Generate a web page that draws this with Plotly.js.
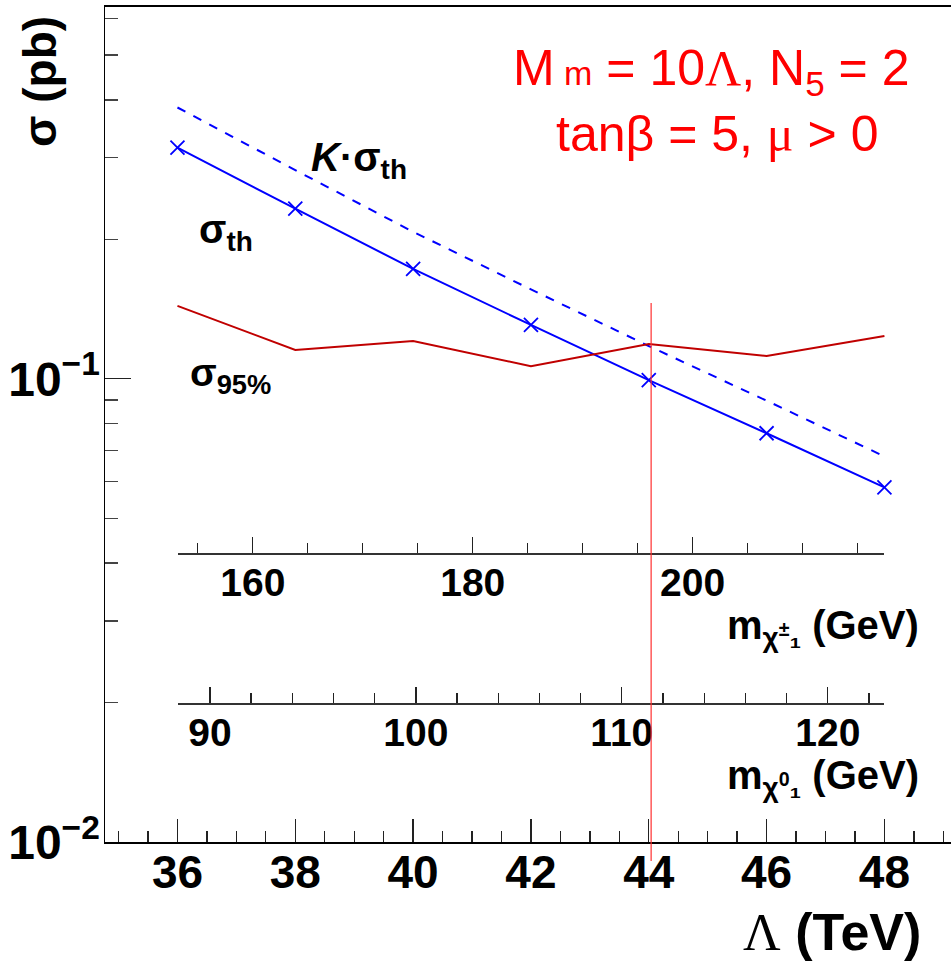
<!DOCTYPE html>
<html><head><meta charset="utf-8">
<script src="https://cdn.plot.ly/plotly-3.0.1.min.js"></script>
<style>html,body{margin:0;padding:0;background:#fff}</style>
</head><body><div id="chart" style="width:951px;height:961px"></div>
<script>
// ---- data ----
const lambdaTeV = [36, 38, 40, 42, 44, 46, 48];
const sigmaTh   = [0.3157, 0.2330, 0.1727, 0.1307, 0.0994, 0.0763, 0.0583];
const kSigmaTh  = [0.3853, 0.2822, 0.2077, 0.1560, 0.1177, 0.0897, 0.0680];
const sigma95   = [0.1437, 0.1154, 0.1207, 0.1065, 0.1189, 0.1120, 0.1237];
const exclusionLambda = 44.04;
const lambdaTicks = [36, 38, 40, 42, 44, 46, 48];
const sigmaTicks = [0.01, 0.1];
const sigmaTickText = ['10<sup>\u22122</sup>', '10<sup>\u22121</sup>'];
const sigmaMinor = [0.02,0.03,0.04,0.05,0.06,0.07,0.08,0.09,0.2,0.3,0.4,0.5,0.6];
const charginoTicks = [160, 180, 200];
const neutralinoTicks = [90, 100, 110, 120];

// ---- geometry helpers (pixel -> paper) ----
const L = 105, R = 0, T = 7, B = 119, W = 951, H = 961;
const PW = W - L - R, PH = H - T - B;
const px = v => (v - L) / PW;
const py = v => (H - B - v) / PH;

const FONT = 'Liberation Sans, Arial, Helvetica, sans-serif';
const blue = '#0000ff';

const traces = [
  {x: lambdaTeV, y: kSigmaTh, mode: 'lines', line: {color: blue, width: 2, dash: 'dash'}, hoverinfo: 'skip', showlegend: false},
  {x: lambdaTeV, y: sigmaTh, mode: 'lines+markers', line: {color: blue, width: 2},
   marker: {symbol: 'x-thin', size: 14, line: {color: blue, width: 1.8}}, showlegend: false},
  {x: lambdaTeV, y: sigma95, mode: 'lines', line: {color: '#c00000', width: 2}, showlegend: false},
  {x: charginoTicks, y: charginoTicks.map(() => null), xaxis: 'x2', yaxis: 'y', mode: 'lines', showlegend: false, hoverinfo: 'skip'},
  {x: neutralinoTicks, y: neutralinoTicks.map(() => null), xaxis: 'x3', yaxis: 'y', mode: 'lines', showlegend: false, hoverinfo: 'skip'}
];

const secAxis = (range, ticks, minorD, pos) => ({
  domain: [px(178), px(884)], anchor: 'free', position: pos, range: range,
  tickmode: 'array', tickvals: ticks, ticks: 'inside', ticklen: 16, tickwidth: 1.3, tickcolor: '#222',
  minor: {tickmode: 'linear', tick0: 0, dtick: minorD, ticks: 'inside', ticklen: 10, tickwidth: 1.3, tickcolor: '#222'},
  showline: true, linecolor: '#333', linewidth: 1.5, showgrid: false, zeroline: false,
  ticklabelstandoff: -5,
  tickfont: {family: FONT, size: 39, color: '#000', weight: 'bold'}, fixedrange: true
});

const ann = (text, x, y, size, opts) => Object.assign({
  text: text, xref: 'paper', yref: 'paper', x: px(x), y: py(y), showarrow: false,
  font: {family: FONT, size: size, color: '#000'}, xanchor: 'center', yanchor: 'middle'
}, opts || {});

const layout = {
  width: W, height: H, margin: {l: L, r: R, t: T, b: B},
  paper_bgcolor: '#fff', plot_bgcolor: 'rgba(0,0,0,0)', showlegend: false,
  xaxis: {
    range: [34.77, 49.13], tickmode: 'array', tickvals: lambdaTicks,
    ticks: 'inside', ticklen: 23, tickwidth: 1.3, tickcolor: '#222',
    minor: {tickmode: 'linear', tick0: 0, dtick: 0.5, ticks: 'inside', ticklen: 11, tickwidth: 1.3, tickcolor: '#222'},
    showline: true, mirror: true, linecolor: '#000', linewidth: 2, showgrid: false, zeroline: false,
    ticklabelstandoff: -11,
    tickfont: {family: FONT, size: 46, color: '#000', weight: 'bold'}, fixedrange: true
  },
  yaxis: {
    type: 'log', range: [-2, Math.log10(0.635)], tickmode: 'array', tickvals: sigmaTicks, ticktext: sigmaTickText,
    ticks: 'inside', ticklen: 26, tickwidth: 1.3, tickcolor: '#222',
    minor: {tickmode: 'array', tickvals: sigmaMinor, ticks: 'inside', ticklen: 13, tickwidth: 1.3, tickcolor: '#444'},
    showline: true, linecolor: '#000', linewidth: 1.5, showgrid: false, zeroline: false,
    ticklabelstandoff: -6,
    tickfont: {family: FONT, size: 48, color: '#000', weight: 'bold'}, fixedrange: true
  },
  xaxis2: secAxis([153.2, 217.4], charginoTicks, 5, py(553)),
  xaxis3: secAxis([88.45, 122.73], neutralinoTicks, 2, py(703)),
  shapes: [
    {type: 'line', xref: 'x', yref: 'paper', x0: exclusionLambda, x1: exclusionLambda, y0: py(861), y1: py(303),
     line: {color: '#ff3030', width: 1.2}}
  ],
  annotations: [
    ann('<b>\u03c3 (pb)</b>', 40, 82, 46, {textangle: -90}),
    ann('<span style="font-family:Liberation Serif,serif">\u039b</span> <b>(TeV)</b>', 923, 932, 52, {xanchor: 'right'}),
    ann('<b>m<sub>\u03c7<sup>\u00b1</sup>\u2081</sub> (GeV)</b>', 921, 628, 40, {xanchor: 'right'}),
    ann('<b>m<sub>\u03c7<sup>0</sup>\u2081</sub> (GeV)</b>', 921, 778, 40, {xanchor: 'right'}),
    ann('<b><i>K</i>\u00b7\u03c3<sub>th</sub></b>', 359, 160, 40),
    ann('<b>\u03c3<sub>th</sub></b>', 226, 232, 40),
    ann('<b>\u03c3<sub>95%</sub></b>', 230, 375, 39),
    ann('M<span style="font-size:34px"> m</span> = 10<span style="font-family:Liberation Serif,serif">\u039b</span>, N<sub>5</sub> = 2', 711, 72, 50, {font: {family: FONT, size: 50, color: '#ff0000'}}),
    ann('tan\u03b2 = 5, <span style="font-family:Liberation Serif,serif">\u03bc</span> > 0', 717, 134, 50, {font: {family: FONT, size: 50, color: '#ff0000'}})
  ]
};

Plotly.newPlot('chart', traces, layout, {staticPlot: true, displayModeBar: false});
</script>
</body></html>
